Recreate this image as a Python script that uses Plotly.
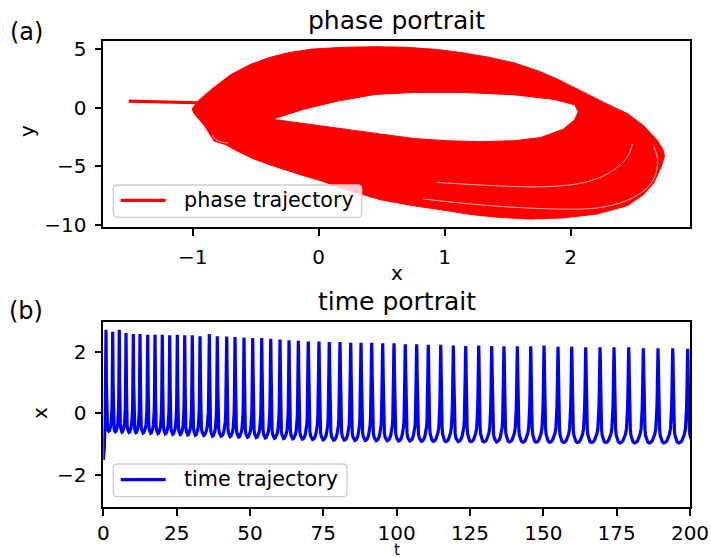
import plotly.graph_objects as go

W, H = 711, 558
FONT = "DejaVu Sans"

# ---------------- data ----------------
# (a) phase portrait: outer edge of the dense band of loops (x, y)
outer_x = [-1.005, -0.95, -0.83, -0.70, -0.55, -0.40, -0.25, -0.05, 0.20, 0.45, 0.70, 0.95,
           1.15, 1.35, 1.55, 1.75, 1.90, 2.08, 2.20, 2.32, 2.45, 2.58, 2.68, 2.73, 2.745,
           2.72, 2.66, 2.58, 2.45, 2.21, 1.94, 1.68, 1.42, 1.20, 1.02, 0.75, 0.49, 0.25,
           0.01, -0.15, -0.38, -0.52, -0.65, -0.74, -0.83, -0.86, -0.91, -0.99]
outer_y = [-0.10, 0.65, 1.75, 2.80, 3.65, 4.25, 4.67, 5.00, 5.15, 5.20, 5.15, 4.95,
           4.67, 4.30, 3.82, 3.10, 2.40, 1.41, 0.80, 0.15, -0.50, -1.55, -2.70, -3.50, -4.10,
           -5.00, -6.40, -7.40, -8.36, -9.07, -9.40, -9.50, -9.35, -9.10, -8.78, -8.36, -7.85, -7.10,
           -6.20, -5.70, -4.90, -4.35, -3.69, -3.15, -2.85, -2.30, -1.50, -0.50]
# inner empty region of the band (x, y)
hole_x = [-0.37, -0.12, 0.15, 0.45, 0.75, 1.02, 1.28, 1.55, 1.76, 1.94, 2.03, 2.06,
          2.03, 1.87, 1.55, 1.15, 0.75, 0.45, 0.15, -0.12, -0.37]
hole_y = [-0.99, -1.36, -1.70, -2.20, -2.62, -2.82, -2.90, -2.82, -2.55, -1.84, -1.05, -0.35,
          0.25, 0.70, 1.10, 1.30, 1.30, 1.13, 0.56, -0.14, -0.99]
# thin gaps between strands
gap1_x = [0.94, 1.30, 1.76, 2.10, 2.30, 2.45, 2.49]
gap1_y = [-6.37, -6.60, -6.75, -6.40, -5.60, -4.20, -3.10]
gap2_x = [0.83, 1.30, 1.76, 2.21, 2.45, 2.60, 2.67, 2.69, 2.66]
gap2_y = [-7.79, -8.30, -8.60, -8.55, -7.90, -6.90, -5.80, -4.40, -3.30]
gap3_x = [-0.845, -0.82, -0.77, -0.72]
gap3_y = [-2.35, -2.70, -2.93, -3.02]
# initial transient
start_x = [-1.508, -1.25, -0.965]
start_y = [0.56, 0.50, 0.42]

# (b) time portrait: spike peaks, peak heights and following troughs
peak_t = [0.92, 3.20, 5.45, 7.74, 10.23, 12.51, 15.14, 17.63, 20.11, 22.64, 25.23, 27.75,
          30.34, 32.97, 36.14, 38.86, 42.07, 44.90, 47.96, 50.93, 54.00, 57.07, 60.24, 63.31,
          66.48, 69.88, 73.53, 77.04, 80.69, 84.34, 87.85, 91.49, 95.24, 99.10, 102.95, 106.83,
          110.79, 115.02, 119.31, 123.54, 127.97, 132.40, 136.59, 141.13, 145.70, 150.23, 155.00,
          159.67, 164.44, 169.32, 174.09, 179.10, 184.08, 189.09, 194.10, 199.21]
peak_x = [2.71, 2.64, 2.71, 2.60, 2.57, 2.57, 2.55, 2.55, 2.55, 2.53, 2.55, 2.53, 2.53, 2.50,
          2.57, 2.50, 2.49, 2.47, 2.46, 2.44, 2.44, 2.42, 2.39, 2.37, 2.35, 2.33, 2.33, 2.31,
          2.31, 2.29, 2.29, 2.29, 2.27, 2.27, 2.24, 2.24, 2.22, 2.22, 2.20, 2.18, 2.20, 2.18,
          2.17, 2.17, 2.17, 2.20, 2.16, 2.16, 2.14, 2.14, 2.14, 2.14, 2.11, 2.11, 2.11, 2.09]
trough_x = [-0.58, -0.60, -0.61, -0.62, -0.63, -0.64, -0.65, -0.66, -0.67, -0.68, -0.69, -0.70,
            -0.71, -0.72, -0.74, -0.75, -0.76, -0.77, -0.78, -0.79, -0.80, -0.81, -0.82, -0.83,
            -0.84, -0.85, -0.86, -0.87, -0.87, -0.88, -0.88, -0.89, -0.89, -0.90, -0.90, -0.91,
            -0.91, -0.92, -0.92, -0.92, -0.93, -0.93, -0.93, -0.94, -0.94, -0.94, -0.95, -0.95,
            -0.95, -0.95, -0.96, -0.96, -0.96, -0.96, -0.96, -0.96]
# start of the run
start_t = [0.0, 0.35, 0.60, 0.75, 0.85]
start_v = [-1.52, -1.10, -0.30, 1.00, 2.20]
# shape of one spike cycle (fraction of the inter-spike interval, fraction of the swing)
down_ph = [0.0, 0.02, 0.04, 0.055, 0.07, 0.085, 0.11, 0.15, 0.22, 0.30, 0.40]
down_w = [1.0, 0.90, 0.70, 0.50, 0.35, 0.25, 0.15, 0.08, 0.035, 0.01, 0.0]
up_ph = [0.50, 0.60, 0.70, 0.78, 0.85, 0.89, 0.92, 0.945, 0.96, 0.98]
up_w = [0.005, 0.02, 0.05, 0.09, 0.15, 0.23, 0.35, 0.50, 0.70, 0.90]

# legend entries
legend_names = ["phase trajectory", "time trajectory"]
legend_colors = ["#ff0000", "#0000ff"]

# ---------------- build traces ----------------
poly_x = outer_x + [outer_x[0]] + hole_x + [outer_x[0]]
poly_y = outer_y + [outer_y[0]] + hole_y + [outer_y[0]]

ts, xs = list(start_t), list(start_v)
N = len(peak_t)
for k in range(N):
    tk, pk, mk = peak_t[k], peak_x[k], trough_x[k]
    if k < N - 1:
        D, pn = peak_t[k + 1] - tk, peak_x[k + 1]
    else:
        D, pn = tk - peak_t[k - 1], pk
    for ph, w in zip(down_ph, down_w):
        ts.append(tk + ph * D); xs.append(mk + w * (pk - mk))
    for ph, w in zip(up_ph, up_w):
        ts.append(tk + ph * D); xs.append(mk + w * (pn - mk))

fig = go.Figure()
fig.add_trace(go.Scatter(x=poly_x, y=poly_y, mode="lines", fill="toself", fillcolor="#ff0000",
                         line=dict(color="#ff0000", width=1), showlegend=False,
                         xaxis="x", yaxis="y", hoverinfo="skip"))
for gx, gy in [(gap1_x, gap1_y), (gap2_x, gap2_y), (gap3_x, gap3_y)]:
    fig.add_trace(go.Scatter(x=gx, y=gy, mode="lines", line=dict(color="white", width=1, shape="spline"),
                             opacity=0.7, showlegend=False, xaxis="x", yaxis="y", hoverinfo="skip"))
fig.add_trace(go.Scatter(x=start_x, y=start_y, mode="lines", name=legend_names[0],
                         line=dict(color=legend_colors[0], width=3.2), showlegend=False,
                         xaxis="x", yaxis="y"))
fig.add_trace(go.Scatter(x=ts, y=xs, mode="lines", name=legend_names[1],
                         line=dict(color=legend_colors[1], width=3.2), showlegend=False,
                         xaxis="x2", yaxis="y2"))

def px_x(p):
    return p / W

def px_y(p):
    return 1 - p / H

L, R = 103.3, 690.0
axis_common = dict(showline=True, linecolor="black", linewidth=1.6, mirror=True, ticks="outside",
                   ticklen=7, tickwidth=1.6, tickcolor="black", showgrid=False, zeroline=False,
                   tickfont=dict(family=FONT, size=20, color="black"), automargin=False)

fig.update_layout(
    width=W, height=H, margin=dict(l=0, r=0, t=0, b=0), autosize=False,
    template="none", paper_bgcolor="white", plot_bgcolor="white",
    font=dict(family=FONT, size=20, color="black"), showlegend=False,
    xaxis=dict(domain=[px_x(L), px_x(R)], range=[-1.71, 2.947], tickvals=[-1, 0, 1, 2],
               anchor="y", ticklabelstandoff=4, **axis_common),
    yaxis=dict(domain=[px_y(227.3), px_y(40.7)], range=[-10.2, 5.71], tickvals=[-10, -5, 0, 5],
               anchor="x", ticklabelstandoff=4, **axis_common),
    xaxis2=dict(domain=[px_x(L), px_x(R)], range=[0, 200], tickvals=list(range(0, 201, 25)),
                anchor="y2", ticklabelstandoff=0, **axis_common),
    yaxis2=dict(domain=[px_y(506.7), px_y(321.7)], range=[-3.03, 2.97], tickvals=[-2, 0, 2],
                anchor="x2", ticklabelstandoff=4, **axis_common),
)

def note(text, x, y, size, angle=0, xanchor="center"):
    fig.add_annotation(text=text, x=px_x(x), y=px_y(y), xref="paper", yref="paper",
                       xanchor=xanchor, yanchor="middle", showarrow=False, textangle=angle,
                       font=dict(family=FONT, size=size, color="black"))

# legend boxes (matplotlib style: rounded, light grey frame, translucent white)
def legend_box(x0, y0, x1, y1, name, color):
    r = 4.0
    pts = [(x0 + r, y0), (x1 - r, y0), (x1, y0, x1, y0 + r), (x1, y1 - r), (x1, y1, x1 - r, y1),
           (x0 + r, y1), (x0, y1, x0, y1 - r), (x0, y0 + r), (x0, y0, x0 + r, y0)]
    path = "M %f,%f" % (px_x(pts[0][0]), px_y(pts[0][1]))
    for p in pts[1:]:
        if len(p) == 2:
            path += " L %f,%f" % (px_x(p[0]), px_y(p[1]))
        else:
            path += " Q %f,%f %f,%f" % (px_x(p[0]), px_y(p[1]), px_x(p[2]), px_y(p[3]))
    path += " Z"
    fig.add_shape(type="path", path=path, xref="paper", yref="paper",
                  fillcolor="rgba(255,255,255,0.8)", line=dict(color="#cccccc", width=1.3),
                  layer="above")
    ym = (y0 + y1) / 2 - 0.8
    fig.add_shape(type="line", x0=px_x(x0 + 7.4), x1=px_x(x0 + 52.4), y0=px_y(ym), y1=px_y(ym),
                  xref="paper", yref="paper", line=dict(color=color, width=3.2), layer="above")
    note(name, x0 + 68.4, ym - 0.5, 20.7, xanchor="left")

legend_box(113.3, 185.0, 361.7, 217.3, legend_names[0], legend_colors[0])
legend_box(113.3, 464.0, 347.0, 496.7, legend_names[1], legend_colors[1])

note("phase portrait", (L + R) / 2, 20.3, 25)
note("time portrait", (L + R) / 2, 301.3, 25)
note("x", (L + R) / 2, 272.5, 20)
note("t", (L + R) / 2, 549.5, 15)
note("y", 27, 131, 20, -90)
note("x", 40, 413, 20, -90)
note("(a)", 26, 32, 24)
note("(b)", 26, 311, 24)

fig.write_html("out.html")
